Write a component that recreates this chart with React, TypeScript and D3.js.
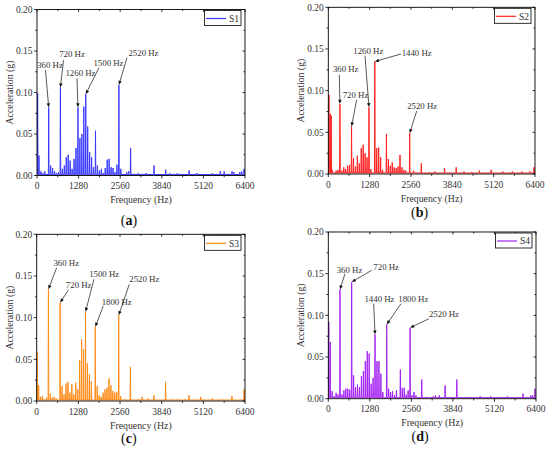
import { scaleLinear, line, format } from 'd3'

type Peak = [number, number]
type Note = { text: string; f: number; tx: number; ta: number; sx: number; sa: number }

// Spectral lines: [frequency (Hz), acceleration (g)]
const S1: Peak[] = [
  [20, 0.099], [60, 0.024], [120, 0.005], [180, 0.003], [240, 0.005], [360, 0.082], [420, 0.012],
  [480, 0.009], [540, 0.005], [600, 0.003], [660, 0.004], [720, 0.106], [780, 0.008], [840, 0.012],
  [900, 0.022], [960, 0.025], [1020, 0.018], [1080, 0.008], [1140, 0.02], [1200, 0.033], [1260, 0.082],
  [1320, 0.045], [1380, 0.05], [1440, 0.083], [1500, 0.098], [1560, 0.059], [1620, 0.028], [1680, 0.022],
  [1740, 0.01], [1800, 0.054], [1860, 0.012], [1920, 0.006], [1980, 0.008], [2040, 0.003], [2100, 0.009],
  [2160, 0.019], [2220, 0.02], [2280, 0.01], [2340, 0.009], [2400, 0.004], [2460, 0.013], [2520, 0.109],
  [2580, 0.008], [2760, 0.004], [2820, 0.005], [2880, 0.033], [3000, 0.002], [3120, 0.003], [3240, 0.002],
  [3360, 0.003], [3600, 0.012], [3960, 0.007], [4080, 0.003], [4200, 0.002], [4320, 0.003], [4440, 0.002],
  [4680, 0.006], [4920, 0.003], [5160, 0.002], [5400, 0.003], [5640, 0.005], [5760, 0.005], [6000, 0.005],
  [6060, 0.004], [6240, 0.004], [6300, 0.005], [6370, 0.008],
]

const S2: Peak[] = [
  [20, 0.095], [60, 0.072], [90, 0.07], [120, 0.005], [240, 0.004], [300, 0.005], [360, 0.084],
  [420, 0.004], [480, 0.008], [540, 0.006], [600, 0.01], [660, 0.011], [720, 0.057], [780, 0.019],
  [840, 0.009], [900, 0.022], [960, 0.013], [1020, 0.031], [1080, 0.035], [1140, 0.025], [1200, 0.02],
  [1260, 0.08], [1320, 0.006], [1440, 0.135], [1500, 0.031], [1560, 0.032], [1620, 0.02], [1680, 0.005],
  [1800, 0.048], [1860, 0.018], [1920, 0.01], [1980, 0.014], [2040, 0.008], [2100, 0.007], [2160, 0.009],
  [2220, 0.023], [2280, 0.008], [2340, 0.005], [2400, 0.004], [2520, 0.049], [2640, 0.004], [2880, 0.013],
  [3120, 0.002], [3300, 0.003], [3600, 0.007], [3960, 0.008], [4200, 0.003], [4440, 0.002], [4680, 0.004],
  [5040, 0.005], [5400, 0.003], [5700, 0.003], [6000, 0.003], [6240, 0.003], [6370, 0.008],
]

const S3: Peak[] = [
  [15, 0.059], [60, 0.019], [120, 0.005], [180, 0.006], [300, 0.004], [360, 0.134], [420, 0.009],
  [480, 0.004], [540, 0.005], [600, 0.003], [720, 0.118], [780, 0.018], [840, 0.008], [900, 0.021],
  [960, 0.023], [1020, 0.01], [1080, 0.02], [1140, 0.008], [1200, 0.022], [1260, 0.014], [1320, 0.049],
  [1380, 0.074], [1440, 0.062], [1500, 0.107], [1560, 0.045], [1620, 0.032], [1680, 0.024], [1800, 0.089],
  [1860, 0.018], [1920, 0.007], [1980, 0.005], [2040, 0.01], [2100, 0.014], [2160, 0.016], [2220, 0.027],
  [2280, 0.019], [2340, 0.012], [2400, 0.01], [2460, 0.011], [2520, 0.103], [2580, 0.006], [2700, 0.002],
  [2880, 0.041], [3120, 0.002], [3240, 0.005], [3420, 0.003], [3600, 0.007], [3960, 0.023], [4140, 0.002],
  [4320, 0.002], [4560, 0.002], [4680, 0.007], [5040, 0.005], [5400, 0.003], [5700, 0.002], [6000, 0.006],
  [6370, 0.014],
]

const S4: Peak[] = [
  [15, 0.092], [60, 0.068], [120, 0.009], [180, 0.003], [240, 0.007], [300, 0.005], [360, 0.131],
  [420, 0.005], [480, 0.01], [540, 0.012], [600, 0.012], [660, 0.011], [720, 0.14], [780, 0.028],
  [840, 0.014], [900, 0.017], [960, 0.014], [1020, 0.027], [1080, 0.033], [1140, 0.045], [1200, 0.057],
  [1260, 0.054], [1320, 0.018], [1380, 0.025], [1440, 0.077], [1500, 0.045], [1560, 0.045], [1620, 0.03],
  [1680, 0.008], [1800, 0.089], [1860, 0.012], [1920, 0.008], [1980, 0.009], [2040, 0.004], [2100, 0.01],
  [2220, 0.035], [2280, 0.013], [2340, 0.013], [2400, 0.005], [2460, 0.01], [2520, 0.085], [2580, 0.004],
  [2640, 0.008], [2700, 0.004], [2880, 0.023], [3240, 0.003], [3300, 0.004], [3420, 0.004], [3600, 0.016],
  [3960, 0.023], [4320, 0.002], [4680, 0.003], [5000, 0.003], [5520, 0.003], [6000, 0.006], [6240, 0.004],
  [6300, 0.004], [6370, 0.012],
]

// Annotations: label, target line, label centre (tx, ta) and arrow tail (sx, sa) in data units
const S1_NOTES: Note[] = [
  { text: '360 Hz', f: 360, tx: 400, ta: 0.133, sx: 262, sa: 0.127 },
  { text: '720 Hz', f: 720, tx: 1077, ta: 0.146, sx: 815, sa: 0.139 },
  { text: '1260 Hz', f: 1260, tx: 1338, ta: 0.123, sx: 1231, sa: 0.117 },
  { text: '1500 Hz', f: 1500, tx: 2200, ta: 0.136, sx: 1908, sa: 0.13 },
  { text: '2520 Hz', f: 2520, tx: 3277, ta: 0.147, sx: 2769, sa: 0.142 },
]
const S2_NOTES: Note[] = [
  { text: '360 Hz', f: 360, tx: 539, ta: 0.126, sx: 341, sa: 0.119 },
  { text: '720 Hz', f: 720, tx: 842, ta: 0.095, sx: 878, sa: 0.089 },
  { text: '1260 Hz', f: 1260, tx: 1238, ta: 0.148, sx: 1136, sa: 0.142 },
  { text: '1440 Hz', f: 1440, tx: 2737, ta: 0.145, sx: 2251, sa: 0.144 },
  { text: '2520 Hz', f: 2520, tx: 2907, ta: 0.082, sx: 2737, sa: 0.0756 },
]
const S3_NOTES: Note[] = [
  { text: '360 Hz', f: 360, tx: 909, ta: 0.166, sx: 614, sa: 0.16 },
  { text: '720 Hz', f: 720, tx: 1290, ta: 0.139, sx: 971, sa: 0.133 },
  { text: '1500 Hz', f: 1500, tx: 2074, ta: 0.152, sx: 1760, sa: 0.146 },
  { text: '1800 Hz', f: 1800, tx: 2458, ta: 0.119, sx: 2046, sa: 0.114 },
  { text: '2520 Hz', f: 2520, tx: 3306, ta: 0.146, sx: 2845, sa: 0.14 },
]
const S4_NOTES: Note[] = [
  { text: '360 Hz', f: 360, tx: 653, ta: 0.155, sx: 514, sa: 0.15 },
  { text: '720 Hz', f: 720, tx: 1784, ta: 0.158, sx: 1337, sa: 0.154 },
  { text: '1440 Hz', f: 1440, tx: 1577, ta: 0.12, sx: 1399, sa: 0.114 },
  { text: '1800 Hz', f: 1800, tx: 2619, ta: 0.12, sx: 2240, sa: 0.114 },
  { text: '2520 Hz', f: 2520, tx: 3565, ta: 0.102, sx: 3103, sa: 0.096 },
]

const X_TICKS = [0, 1280, 2560, 3840, 5120, 6400]
const X_MINOR = [640, 1920, 3200, 4480, 5760]
const Y_TICKS = [0, 0.05, 0.1, 0.15, 0.2]
const Y_MINOR = [0.025, 0.075, 0.125, 0.175]
const FLOOR = 0.0012

const FONT = 'Liberation Serif, Times New Roman, DejaVu Serif, serif'
const INK = '#333'
const fmt = format('.2f')

type PanelProps = {
  id: string
  data: Peak[]
  notes: Note[]
  name: string
  color: string
  letter: string
  l: number
  r: number
  t: number
  b: number
  capY: number
}

function Panel({ id, data, notes, name, color, letter, l, r, t, b, capY }: PanelProps) {
  const x = scaleLinear().domain([0, 6400]).range([l, r])
  const y = scaleLinear().domain([0, 0.2]).range([b, t])

  // spectrum as a single trace: floor -> spike -> floor for every line
  const pts: Peak[] = [[0, FLOOR]]
  data.forEach(([f, a]) => {
    pts.push([f - 10, FLOOR], [f, a], [f + 10, FLOOR])
  })
  pts.push([6400, FLOOR])
  const path = line<Peak>()
    .x((d) => x(d[0]))
    .y((d) => y(d[1]))(pts)

  const amp = (f: number) => (data.find((d) => d[0] === f) || [f, 0])[1]
  const cx = (l + r) / 2
  const cy = (t + b) / 2

  return (
    <g fontFamily={FONT}>
      <defs>
        <clipPath id={`clip-${id}`}>
          <rect x={l} y={t} width={r - l} height={b - t} />
        </clipPath>
      </defs>
      <path d={path || ''} fill="none" stroke={color} strokeWidth={1} clipPath={`url(#clip-${id})`} />

      {/* frame */}
      <rect x={l} y={t} width={r - l} height={b - t} fill="none" stroke="#000" strokeWidth={0.9} />

      {X_TICKS.map((v) => (
        <g key={`x${v}`}>
          <line x1={x(v)} x2={x(v)} y1={b} y2={b + 3} stroke="#000" strokeWidth={0.8} />
          <line x1={x(v)} x2={x(v)} y1={t} y2={t + 2.5} stroke="#000" strokeWidth={0.8} />
          <text x={x(v)} y={b + 13.5} textAnchor="middle" fontSize={9.5} fill={INK}>
            {v}
          </text>
        </g>
      ))}
      {X_MINOR.map((v) => (
        <g key={`xm${v}`}>
          <line x1={x(v)} x2={x(v)} y1={b} y2={b + 1.8} stroke="#000" strokeWidth={0.8} />
          <line x1={x(v)} x2={x(v)} y1={t} y2={t + 1.5} stroke="#000" strokeWidth={0.8} />
        </g>
      ))}
      {Y_TICKS.map((v) => (
        <g key={`y${v}`}>
          <line x1={l - 3} x2={l} y1={y(v)} y2={y(v)} stroke="#000" strokeWidth={0.8} />
          <line x1={r - 2.5} x2={r} y1={y(v)} y2={y(v)} stroke="#000" strokeWidth={0.8} />
          <text x={l - 4.5} y={y(v) + 3.3} textAnchor="end" fontSize={9.5} fill={INK}>
            {fmt(v)}
          </text>
        </g>
      ))}
      {Y_MINOR.map((v) => (
        <g key={`ym${v}`}>
          <line x1={l - 1.8} x2={l} y1={y(v)} y2={y(v)} stroke="#000" strokeWidth={0.8} />
          <line x1={r - 1.5} x2={r} y1={y(v)} y2={y(v)} stroke="#000" strokeWidth={0.8} />
        </g>
      ))}

      <text x={cx} y={b + 27.5} textAnchor="middle" fontSize={9.8} fill={INK}>
        Frequency (Hz)
      </text>
      <text
        x={l - 24}
        y={cy}
        textAnchor="middle"
        fontSize={9.8}
        fill={INK}
        transform={`rotate(-90 ${l - 24} ${cy})`}
      >
        Acceleration (g)
      </text>

      {/* legend */}
      <rect x={r - 40.5} y={t + 1} width={36.5} height={15} fill="#fff" stroke="#000" strokeWidth={0.8} />
      <line x1={r - 39} x2={r - 19} y1={t + 9} y2={t + 9} stroke={color} strokeWidth={1.2} />
      <text x={r - 16} y={t + 12.3} fontSize={9.5} fill={INK}>
        {name}
      </text>

      {/* annotations */}
      {notes.map((n) => {
        const x1 = x(n.sx)
        const y1 = y(n.sa)
        const x2 = x(n.f)
        const y2 = y(amp(n.f))
        const ang = Math.atan2(y2 - y1, x2 - x1)
        const hl = 4.2
        const hw = 1.7
        const bx = x2 - hl * Math.cos(ang)
        const by = y2 - hl * Math.sin(ang)
        const px = -Math.sin(ang) * hw
        const py = Math.cos(ang) * hw
        return (
          <g key={n.text}>
            <line x1={x1} y1={y1} x2={bx} y2={by} stroke="#111" strokeWidth={0.7} />
            <polygon points={`${x2},${y2} ${bx + px},${by + py} ${bx - px},${by - py}`} fill="#111" />
            <text x={x(n.tx)} y={y(n.ta) + 3} textAnchor="middle" fontSize={8.8} fill={INK}>
              {n.text}
            </text>
          </g>
        )
      })}

      <text x={cx - 12} y={capY} textAnchor="middle" fontSize={14} fill="#111">
        (<tspan fontWeight="bold">{letter}</tspan>)
      </text>
    </g>
  )
}

export default function App() {
  return (
    <svg
      width={550}
      height={453}
      viewBox="0 0 550 453"
      style={{ position: 'absolute', left: 0, top: 0, background: '#fff' }}
    >
      <Panel id="a" data={S1} notes={S1_NOTES} name="S1" color="#3a3aff" letter="a" l={37} r={245} t={9.5} b={175.5} capY={225} />
      <Panel id="b" data={S2} notes={S2_NOTES} name="S2" color="#ff2222" letter="b" l={328.3} r={535} t={7.3} b={174} capY={217} />
      <Panel id="c" data={S3} notes={S3_NOTES} name="S3" color="#ff8c1a" letter="c" l={36.7} r={245} t={234.3} b={401} capY={442.5} />
      <Panel id="d" data={S4} notes={S4_NOTES} name="S4" color="#a424f2" letter="d" l={328.3} r={536} t={232} b={398.7} capY={441} />
    </svg>
  )
}
